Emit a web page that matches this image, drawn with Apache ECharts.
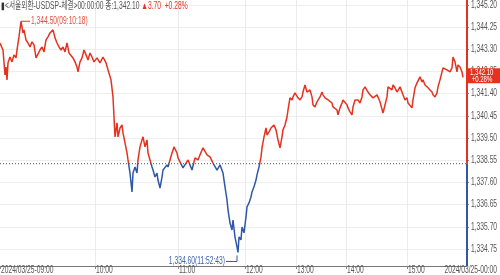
<!DOCTYPE html>
<html><head><meta charset="utf-8">
<script src="https://cdn.jsdelivr.net/npm/echarts@6/dist/echarts.min.js"></script>
<style>html,body{margin:0;padding:0;background:#fff}#c{width:500px;height:275px}</style>
</head><body><div id="c"></div>
<script>
// tick sequence numbers (x position in trade order) and prices
const seq = [
  0,3,5,6,7,8,10,12,14,16,
  17,19,21,23,24,26,28,30,32,34,
  36,38,40,42,44,46,48,50,53,55,
  57,59,61,63,65,67,69,71,73,75,
  77,78,80,82,84,86,88,90,92,94,
  97,100,103,106,108,111,113,114,115,117,
  118,120,122,123,125,127,128,130,132,133,
  135,137,138,140,142,143,145,147,148,150,
  152,153,155,157,158,160,162,163,165,167,
  168,170,172,174,177,178,180,183,185,188,
  190,192,195,198,200,203,207,210,213,217,
  220,223,225,227,228,230,232,233,235,237,
  238,239,241,242,244,246,247,249,251,252,
  254,256,257,259,261,262,264,266,267,269,
  271,272,274,276,278,280,282,283,285,287,
  288,290,292,293,295,297,298,300,302,303,
  305,307,308,310,312,313,315,317,318,320,
  322,323,325,327,328,330,332,333,335,337,
  338,340,342,343,345,347,348,350,352,353,
  355,357,358,360,362,363,365,367,368,370,
  373,377,380,383,387,388,390,392,393,395,
  397,400,403,405,407,408,412,413,415,417,
  418,420,422,423,425,427,428,430,432,433,
  435,437,438,440,442,443,445,447,448,450,
  452,453,455,457,458,460,462,463
];
const price = [
  1343.57,1343.27,1342.20,1342.54,1341.99,1342.72,1342.97,1342.76,1343.06,1342.93,
  1343.27,1343.83,1344.50,1344.00,1344.13,1343.70,1343.57,1343.40,1343.62,1343.49,
  1342.93,1342.97,1343.27,1343.40,1343.19,1343.70,1343.83,1344.00,1344.13,1343.79,
  1343.57,1343.40,1343.27,1343.40,1343.19,1343.57,1343.14,1343.06,1342.93,1342.76,
  1342.54,1342.33,1342.76,1342.93,1343.27,1343.06,1342.84,1343.14,1342.97,1342.76,
  1342.93,1342.72,1342.97,1342.72,1342.42,1341.99,1341.26,1340.40,1339.55,1340.15,
  1339.55,1339.93,1340.06,1339.72,1339.29,1338.86,1338.56,1338.00,1337.19,1338.00,
  1338.26,1338.00,1338.56,1339.12,1339.42,1339.55,1339.12,1339.42,1338.86,1338.56,
  1338.26,1338.13,1337.83,1338.00,1337.70,1337.36,1337.83,1338.13,1338.05,1338.35,
  1338.26,1338.56,1338.86,1339.12,1338.86,1338.65,1338.48,1338.22,1338.22,1338.56,
  1338.35,1338.13,1338.65,1338.56,1338.78,1339.08,1338.78,1338.69,1338.43,1338.13,
  1338.35,1338.00,1337.41,1336.85,1336.42,1335.86,1335.56,1335.99,1335.26,1334.84,
  1334.60,1335.26,1335.14,1335.69,1335.44,1336.12,1336.55,1336.72,1336.98,1337.19,
  1337.41,1337.70,1337.92,1338.26,1338.69,1339.08,1339.55,1339.93,1339.63,1339.76,
  1339.93,1339.85,1340.06,1339.85,1339.42,1339.08,1339.55,1339.85,1340.06,1340.40,
  1340.70,1341.22,1341.13,1341.26,1341.43,1341.47,1341.22,1341.13,1341.26,1341.47,
  1341.77,1341.47,1341.43,1341.56,1341.26,1340.92,1340.83,1341.05,1341.00,1341.26,
  1341.47,1341.35,1341.22,1341.26,1341.13,1341.05,1341.00,1340.83,1340.79,1340.70,
  1340.49,1340.79,1341.00,1341.13,1341.05,1340.92,1340.79,1340.62,1340.49,1340.83,
  1341.13,1341.05,1341.13,1341.00,1341.26,1341.56,1341.69,1341.65,1341.47,1341.35,
  1341.22,1341.35,1341.05,1340.57,1341.26,1341.69,1341.77,1341.56,1341.77,1341.65,
  1341.47,1341.69,1341.35,1341.13,1341.22,1341.00,1340.79,1341.13,1341.65,1341.86,
  1341.90,1342.12,1341.90,1341.99,1341.77,1341.69,1341.65,1341.56,1341.47,1341.35,
  1341.26,1341.43,1341.69,1341.99,1342.33,1342.50,1342.54,1342.42,1342.50,1342.33,
  1342.50,1342.97,1342.76,1342.33,1342.63,1342.54,1342.33,1342.10
];
const slotCount = 468;
const timeTickIdx = [0, 95, 178, 245, 296, 346, 407];
const timeTickText = ['2024/03/25-09:00', '10:00', '11:00', '12:00', '13:00', '14:00', '15:00'];
const endTimeText = '2024/03/25-00:00';
const yTickValues = [1334.75, 1335.70, 1336.65, 1337.60, 1338.55, 1339.50, 1340.45, 1341.40, 1342.35, 1343.30, 1344.25, 1345.20];
const prevClose = 1338.40;
const lastPrice = 1342.10;
const changeAbs = '3.70';
const changePct = '+0.28%';
const yMin = 1334.02, yMax = 1345.41;
const highText = '1,344.50(09:10:18)';
const lowText = '1,334.60(11:52:43)';
const headerText = '<서울외환-USDSP-체결>00:00:00 종:1,342.10';

const RED = '#e5321f', BLUE = '#2f58a8';
const FONT = "'Liberation Sans','Noto Sans CJK KR',sans-serif";
const FS = 10, SX = 0.67;
const fmt = v => v.toLocaleString('en-US', {minimumFractionDigits: 2, maximumFractionDigits: 2});

const cats = [];
for (let i = 0; i < slotCount; i++) cats.push('');
timeTickIdx.forEach((ix, k) => { cats[ix] = timeTickText[k]; });
const tickSet = new Set(timeTickIdx);

const lineData = new Array(slotCount).fill(null);
seq.forEach((s, i) => { lineData[s] = price[i]; });

const chart = echarts.init(document.getElementById('c'), null, {renderer: 'canvas'});
chart.setOption({
  animation: false,
  backgroundColor: '#fff',
  grid: {left: 0, right: 33, top: 0, bottom: 9, containLabel: false, outerBoundsMode: 'none'},
  xAxis: {
    type: 'category', data: cats, boundaryGap: false,
    axisLine: {show: true, lineStyle: {color: '#777', width: 1}},
    axisTick: {show: true, length: 3, interval: (i) => tickSet.has(i), lineStyle: {color: '#888'}},
    axisLabel: {show: false},
    splitLine: {show: true, interval: (i) => tickSet.has(i) && i > 0, lineStyle: {color: '#ebebeb', width: 1}}
  },
  yAxis: {
    type: 'value', position: 'right', min: yMin, max: yMax,
    axisLine: {show: false},
    axisTick: {show: true, length: 2, customValues: yTickValues, lineStyle: {color: '#888'}},
    axisLabel: {show: false, customValues: yTickValues},
    splitLine: {show: true, lineStyle: {color: '#eeeeee', width: 1}}
  },
  visualMap: {
    type: 'piecewise', show: false, seriesIndex: 0, dimension: 1,
    pieces: [{gte: 1300, lt: prevClose, color: BLUE}, {gte: prevClose, lte: 1400, color: RED}]
  },
  series: [{
    type: 'line', data: lineData, connectNulls: true, showSymbol: false, symbol: 'none',
    lineStyle: {width: 1.5}, z: 3
  }]
});

const px = (i, v) => chart.convertToPixel({gridIndex: 0}, [i, v]);
const xr = px(slotCount - 1, yMax)[0];
const yTop = px(0, yMax)[1], yRef = px(0, prevClose)[1], yBot = px(0, yMin)[1];
const yLast = px(0, lastPrice)[1];

let hiI = 0, loI = 0;
price.forEach((p, i) => { if (p > price[hiI]) hiI = i; if (p < price[loI]) loI = i; });
const hp = px(seq[hiI], price[hiI]);
const lp = px(seq[loI], price[loI]);

function txt(x, y, text, color, align, z, extra) {
  return Object.assign({type: 'text', z: z || 40, x: x, y: y, scaleX: SX,
    style: {text: text, fill: color, fontSize: FS, fontFamily: FONT, align: align, verticalAlign: 'middle'}}, extra || {});
}

const g = [
  {type: 'line', z: 50, shape: {x1: 0, y1: yRef, x2: xr, y2: yRef},
    style: {stroke: '#555', lineWidth: 1, lineDash: [1, 2]}},
  {type: 'line', z: 60, shape: {x1: xr, y1: yTop, x2: xr, y2: yRef}, style: {stroke: RED, lineWidth: 2}},
  {type: 'line', z: 60, shape: {x1: xr, y1: yRef, x2: xr, y2: yBot}, style: {stroke: BLUE, lineWidth: 2}},
  {type: 'polyline', z: 40, shape: {points: [[hp[0], hp[1]], [hp[0] + 9, hp[1]]]},
    style: {stroke: RED, lineWidth: 1, fill: null}},
  txt(hp[0] + 10, hp[1], highText, '#e0503f', 'left'),
  {type: 'polyline', z: 40, shape: {points: [[lp[0] - 1, lp[1] + 3], [lp[0] - 1, lp[1] + 9], [lp[0] - 12, lp[1] + 9]]},
    style: {stroke: BLUE, lineWidth: 1, fill: null}},
  txt(lp[0] - 13, lp[1] + 9, lowText, '#3d62ad', 'right'),
  txt(497, 270, endTimeText, '#555', 'right')
];
// y-axis labels
yTickValues.forEach(v => { g.push(txt(xr + 4, Math.max(px(0, v)[1], 5.5), fmt(v), '#555', 'left')); });
// x-axis labels
timeTickIdx.forEach((ix, k) => { g.push(txt(px(ix, yMin)[0] + 1, 270, timeTickText[k], '#555', 'left')); });
// last price box
g.push({type: 'rect', z: 70, shape: {x: xr, y: yLast - 9, width: 500 - xr, height: 15}, style: {fill: RED}});
g.push(txt(xr + 3, yLast - 1.5, '', '#fff', 'left', 71,
  {style: {text: fmt(lastPrice) + '\n ' + changePct, fill: '#fff', fontSize: 9, lineHeight: 7, fontFamily: FONT, align: 'left', verticalAlign: 'middle'}}));
// header
g.push({type: 'text', z: 80, x: 1, y: 6, scaleX: SX,
  style: {text: '{m|▮}{b|' + headerText + '}{c| ▲' + changeAbs + '  ' + changePct + '}',
    verticalAlign: 'middle', fontSize: FS, fontFamily: FONT,
    rich: {
      m: {fill: '#333', fontSize: FS, fontFamily: FONT},
      b: {fill: '#555', fontSize: FS, fontFamily: FONT},
      c: {fill: RED, fontSize: FS, fontFamily: FONT}
    }}});

chart.setOption({graphic: g});
</script>
</body></html>
